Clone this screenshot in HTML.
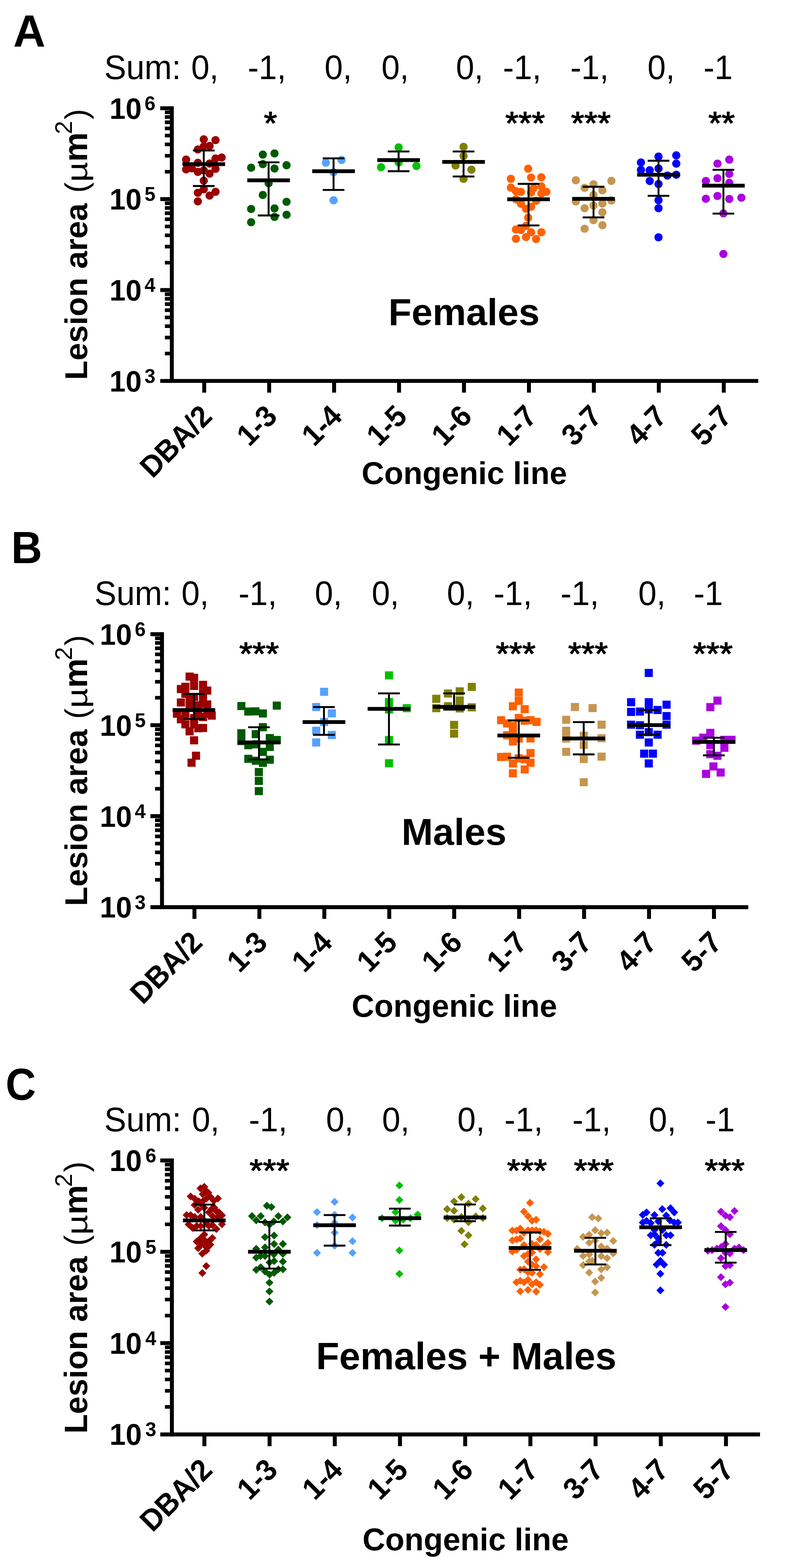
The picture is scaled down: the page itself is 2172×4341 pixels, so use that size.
<!DOCTYPE html>
<html lang="en">
<head>
<meta charset="utf-8">
<title>Lesion area by congenic line</title>
<style>
html,body{margin:0;padding:0;background:#fff}
body{width:2172px;height:4341px;overflow:hidden}
svg{display:block}
text{font-family:'Liberation Sans', sans-serif;fill:#000;white-space:pre;font-kerning:none}
.b{font-weight:700}
</style>
</head>
<body>
<svg width="2172" height="4341" viewBox="0 0 2172 4341">
<rect width="2172" height="4341" fill="#fff"/>
<g id="panel-A" aria-label="Panel A: Females">
<g fill="#9a0000">
<circle cx="563.79" cy="385.83" r="11.3"/><circle cx="596.32" cy="387.93" r="11.3"/><circle cx="579.85" cy="403.99" r="11.3"/><circle cx="563.79" cy="405.38" r="11.3"/><circle cx="547.45" cy="413.76" r="11.3"/><circle cx="514.91" cy="441.69" r="11.3"/><circle cx="596.32" cy="438.9" r="11.3"/><circle cx="613.36" cy="436.11" r="11.3"/><circle cx="547.45" cy="450.77" r="11.3"/><circle cx="579.85" cy="452.86" r="11.3"/><circle cx="514.91" cy="468.92" r="11.3"/><circle cx="530.97" cy="466.13" r="11.3"/><circle cx="547.45" cy="475.91" r="11.3"/><circle cx="596.32" cy="467.53" r="11.3"/><circle cx="579.85" cy="480.79" r="11.3"/><circle cx="563.79" cy="500.34" r="11.3"/><circle cx="563.79" cy="471.72" r="11.3"/><circle cx="563.79" cy="524.08" r="11.3"/><circle cx="547.45" cy="533.86" r="11.3"/><circle cx="596.32" cy="531.07" r="11.3"/><circle cx="579.85" cy="541.54" r="11.3"/><circle cx="547.45" cy="557.6" r="11.3"/>
</g>
<g fill="#005a00">
<circle cx="727.19" cy="428.06" r="11.3"/><circle cx="759.56" cy="424.74" r="11.3"/><circle cx="694.81" cy="464.37" r="11.3"/><circle cx="727.19" cy="454.39" r="11.3"/><circle cx="759.56" cy="466.49" r="11.3"/><circle cx="792.84" cy="457.41" r="11.3"/><circle cx="743.22" cy="507.34" r="11.3"/><circle cx="727.19" cy="539.71" r="11.3"/><circle cx="792.84" cy="558.77" r="11.3"/><circle cx="694.81" cy="578.44" r="11.3"/><circle cx="759.56" cy="576.93" r="11.3"/><circle cx="792.84" cy="594.48" r="11.3"/><circle cx="759.56" cy="600.53" r="11.3"/><circle cx="694.81" cy="615.36" r="11.3"/>
</g>
<g fill="#56a0ff">
<circle cx="901.71" cy="450.45" r="11.3"/><circle cx="944.98" cy="442.89" r="11.3"/><circle cx="922.89" cy="477.08" r="11.3"/><circle cx="922.89" cy="554.54" r="11.3"/>
</g>
<g fill="#00c000">
<circle cx="1102.92" cy="408.09" r="11.3"/><circle cx="1102.92" cy="449.85" r="11.3"/><circle cx="1054.21" cy="462.86" r="11.3"/><circle cx="1152.24" cy="459.53" r="11.3"/>
</g>
<g fill="#808000">
<circle cx="1282.59" cy="406.58" r="11.3"/><circle cx="1282.59" cy="431.69" r="11.3"/><circle cx="1260.5" cy="458.32" r="11.3"/><circle cx="1304.37" cy="469.82" r="11.3"/><circle cx="1282.59" cy="495.23" r="11.3"/>
</g>
<g fill="#ff6000">
<circle cx="1461.41" cy="467.01" r="11.3"/><circle cx="1469.37" cy="491.44" r="11.3"/><circle cx="1497.72" cy="490.75" r="11.3"/><circle cx="1413.51" cy="494.94" r="11.3"/><circle cx="1413.51" cy="519.37" r="11.3"/><circle cx="1427.48" cy="529.15" r="11.3"/><circle cx="1441.44" cy="531.24" r="11.3"/><circle cx="1497.72" cy="515.88" r="11.3"/><circle cx="1476.36" cy="520.77" r="11.3"/><circle cx="1469.37" cy="533.34" r="11.3"/><circle cx="1511.96" cy="531.24" r="11.3"/><circle cx="1497.72" cy="536.13" r="11.3"/><circle cx="1427.48" cy="551.49" r="11.3"/><circle cx="1441.44" cy="564.06" r="11.3"/><circle cx="1483.34" cy="555.68" r="11.3"/><circle cx="1455.41" cy="578.02" r="11.3"/><circle cx="1469.37" cy="572.44" r="11.3"/><circle cx="1461.41" cy="602.46" r="11.3"/><circle cx="1455.41" cy="625.5" r="11.3"/><circle cx="1427.48" cy="635.28" r="11.3"/><circle cx="1441.44" cy="636.68" r="11.3"/><circle cx="1469.37" cy="642.96" r="11.3"/><circle cx="1497.72" cy="642.96" r="11.3"/><circle cx="1427.48" cy="661.11" r="11.3"/><circle cx="1455.41" cy="656.23" r="11.3"/><circle cx="1483.34" cy="661.81" r="11.3"/>
</g>
<g fill="#c69650">
<circle cx="1593.29" cy="499.15" r="11.3"/><circle cx="1691.6" cy="500.82" r="11.3"/><circle cx="1642.16" cy="510.32" r="11.3"/><circle cx="1617.59" cy="520.09" r="11.3"/><circle cx="1666.74" cy="527.07" r="11.3"/><circle cx="1642.16" cy="539.64" r="11.3"/><circle cx="1593.29" cy="557.79" r="11.3"/><circle cx="1691.6" cy="555" r="11.3"/><circle cx="1666.74" cy="563.38" r="11.3"/><circle cx="1642.16" cy="568.97" r="11.3"/><circle cx="1617.59" cy="576.51" r="11.3"/><circle cx="1666.74" cy="587.68" r="11.3"/><circle cx="1642.16" cy="609.46" r="11.3"/><circle cx="1666.74" cy="623.43" r="11.3"/><circle cx="1617.59" cy="633.2" r="11.3"/>
</g>
<g fill="#0000ff">
<circle cx="1822.02" cy="433.51" r="11.3"/><circle cx="1871.18" cy="430.16" r="11.3"/><circle cx="1773.43" cy="449.71" r="11.3"/><circle cx="1871.18" cy="453.06" r="11.3"/><circle cx="1822.02" cy="466.47" r="11.3"/><circle cx="1773.43" cy="470.38" r="11.3"/><circle cx="1797.72" cy="471.22" r="11.3"/><circle cx="1846.6" cy="486.02" r="11.3"/><circle cx="1871.18" cy="483.78" r="11.3"/><circle cx="1797.72" cy="501.1" r="11.3"/><circle cx="1822.02" cy="509.48" r="11.3"/><circle cx="1822.02" cy="554.16" r="11.3"/><circle cx="1822.02" cy="576.51" r="11.3"/><circle cx="1822.02" cy="656.94" r="11.3"/>
</g>
<g fill="#aa00e0">
<circle cx="2017.83" cy="441.89" r="11.3"/><circle cx="1985.16" cy="453.06" r="11.3"/><circle cx="2017.83" cy="481.55" r="11.3"/><circle cx="1985.16" cy="493.56" r="11.3"/><circle cx="1953.04" cy="501.1" r="11.3"/><circle cx="2017.83" cy="506.13" r="11.3"/><circle cx="1985.16" cy="542.43" r="11.3"/><circle cx="1953.04" cy="550.25" r="11.3"/><circle cx="2017.83" cy="550.81" r="11.3"/><circle cx="2051.35" cy="547.18" r="11.3"/><circle cx="2001.63" cy="590.75" r="11.3"/><circle cx="2001.63" cy="703.02" r="11.3"/>
</g>
<g stroke="#000" fill="none">
<path stroke-width="5.3" d="M563.8 416.6V515M533.8 416.6h60M533.8 515h60"/>
<path stroke-width="10.5" d="M504.8 454.5h118"/>
<path stroke-width="5.3" d="M743.2 449.4V596.5M713.2 449.4h60M713.2 596.5h60"/>
<path stroke-width="10.5" d="M684.2 499.3h118"/>
<path stroke-width="5.3" d="M922.9 438.4V525.8M892.9 438.4h60M892.9 525.8h60"/>
<path stroke-width="10.5" d="M863.9 473.9h118"/>
<path stroke-width="5.3" d="M1102.9 419.4V474M1072.9 419.4h60M1072.9 474h60"/>
<path stroke-width="10.5" d="M1043.9 443.2h118"/>
<path stroke-width="5.3" d="M1282.6 419.3V488.6M1252.6 419.3h60M1252.6 488.6h60"/>
<path stroke-width="10.5" d="M1223.6 448.3h118"/>
<path stroke-width="5.3" d="M1462.4 509V624.1M1432.4 509h60M1432.4 624.1h60"/>
<path stroke-width="10.5" d="M1403.4 551.7h118"/>
<path stroke-width="5.3" d="M1642.2 517V601.9M1612.2 517h60M1612.2 601.9h60"/>
<path stroke-width="10.5" d="M1583.2 550.4h118"/>
<path stroke-width="5.3" d="M1822 445V542.1M1792 445h60M1792 542.1h60"/>
<path stroke-width="10.5" d="M1763 483.7h118"/>
<path stroke-width="5.3" d="M2001.6 470.1V591.3M1971.6 470.1h60M1971.6 591.3h60"/>
<path stroke-width="10.5" d="M1942.6 514.1h118"/>
</g>
<g stroke="#000" fill="none" stroke-width="10.9">
<path d="M475.4 294.15V1060.06"/>
<path d="M443.4 1054.61H2098"/>
<path d="M443.4 299.6H475.4M443.4 551.27H475.4M443.4 802.94H475.4"/>
<path d="M565 1054.61V1087.11M744.7 1054.61V1087.11M924.4 1054.61V1087.11M1104.1 1054.61V1087.11M1283.8 1054.61V1087.11M1463.5 1054.61V1087.11M1643.2 1054.61V1087.11M1822.9 1054.61V1087.11M2002.6 1054.61V1087.11"/>
</g>
<path stroke="#000" fill="none" stroke-width="10" d="M456.2 475.51H475.4M456.2 431.19H475.4M456.2 399.75H475.4M456.2 375.36H475.4M456.2 355.43H475.4M456.2 338.58H475.4M456.2 323.99H475.4M456.2 311.12H475.4M456.2 727.18H475.4M456.2 682.86H475.4M456.2 651.42H475.4M456.2 627.03H475.4M456.2 607.1H475.4M456.2 590.25H475.4M456.2 575.66H475.4M456.2 562.79H475.4M456.2 978.85H475.4M456.2 934.53H475.4M456.2 903.09H475.4M456.2 878.7H475.4M456.2 858.77H475.4M456.2 841.92H475.4M456.2 827.33H475.4M456.2 814.46H475.4"/>
<text class="b" transform="translate(303 328.6) scale(1 1.03)" font-size="80">10<tspan font-size="54" dx="8.02" dy="-23.19">6</tspan></text>
<text class="b" transform="translate(303 580.27) scale(1 1.03)" font-size="80">10<tspan font-size="54" dx="8.02" dy="-23.19">5</tspan></text>
<text class="b" transform="translate(303 831.94) scale(1 1.03)" font-size="80">10<tspan font-size="54" dx="8.02" dy="-23.19">4</tspan></text>
<text class="b" transform="translate(303 1083.61) scale(1 1.03)" font-size="80">10<tspan font-size="54" dx="8.02" dy="-23.19">3</tspan></text>
<text class="b" transform="translate(241.2 1052) rotate(-90)" font-size="88">Lesion area</text>
<text transform="translate(241.2 534) rotate(-90)" font-size="88">(</text>
<text transform="translate(241.2 504.1) rotate(-90) scale(1.1 0.92)" font-size="88">µ</text>
<text class="b" transform="translate(241.2 448.1) rotate(-90)" font-size="92">m</text>
<text transform="translate(198.7 371.6) rotate(-90)" font-size="66">2</text>
<text transform="translate(241.2 330.8) rotate(-90)" font-size="88">)</text>
<text class="b" text-anchor="end" transform="translate(591.5 1157.11) rotate(-45) scale(1 1.04)" font-size="80">DBA/2</text>
<text class="b" text-anchor="end" transform="translate(771.2 1157.11) rotate(-45) scale(1 1.04)" font-size="80">1-3</text>
<text class="b" text-anchor="end" transform="translate(950.9 1157.11) rotate(-45) scale(1 1.04)" font-size="80">1-4</text>
<text class="b" text-anchor="end" transform="translate(1130.6 1157.11) rotate(-45) scale(1 1.04)" font-size="80">1-5</text>
<text class="b" text-anchor="end" transform="translate(1310.3 1157.11) rotate(-45) scale(1 1.04)" font-size="80">1-6</text>
<text class="b" text-anchor="end" transform="translate(1490 1157.11) rotate(-45) scale(1 1.04)" font-size="80">1-7</text>
<text class="b" text-anchor="end" transform="translate(1669.7 1157.11) rotate(-45) scale(1 1.04)" font-size="80">3-7</text>
<text class="b" text-anchor="end" transform="translate(1849.4 1157.11) rotate(-45) scale(1 1.04)" font-size="80">4-7</text>
<text class="b" text-anchor="end" transform="translate(2029.1 1157.11) rotate(-45) scale(1 1.04)" font-size="80">5-7</text>
<text class="b" transform="translate(1000.5 1340)" font-size="86.7">Congenic line</text>
<text class="b" transform="translate(36.4 129)" font-size="123.6">A</text>
<text class="b" transform="translate(1074.8 899.5)" font-size="104.5">Females</text>
<text transform="translate(288.5 218.5) scale(1 1.03)" font-size="91">Sum:</text>
<text transform="translate(529 218.5) scale(1 1.03)" font-size="91">0,</text>
<text transform="translate(685.5 218.5) scale(1 1.03)" font-size="91">-1,</text>
<text transform="translate(898 218.5) scale(1 1.03)" font-size="91">0,</text>
<text transform="translate(1055.5 218.5) scale(1 1.03)" font-size="91">0,</text>
<text transform="translate(1261.5 218.5) scale(1 1.03)" font-size="91">0,</text>
<text transform="translate(1391.5 218.5) scale(1 1.03)" font-size="91">-1,</text>
<text transform="translate(1578 218.5) scale(1 1.03)" font-size="91">-1,</text>
<text transform="translate(1791.5 218.5) scale(1 1.03)" font-size="91">0,</text>
<text transform="translate(1946.5 218.5) scale(1 1.03)" font-size="91">-1</text>
<text stroke="#000" stroke-width="2.2" stroke-linejoin="round" transform="translate(730 371.4) scale(1 0.95)" font-size="94">*</text>
<text stroke="#000" stroke-width="2.2" stroke-linejoin="round" transform="translate(1398 371.4) scale(1 0.95)" font-size="94">***</text>
<text stroke="#000" stroke-width="2.2" stroke-linejoin="round" transform="translate(1580 371.4) scale(1 0.95)" font-size="94">***</text>
<text stroke="#000" stroke-width="2.2" stroke-linejoin="round" transform="translate(1960 371.4) scale(1 0.95)" font-size="94">**</text>
</g>
<g id="panel-B" aria-label="Panel B: Males">
<g fill="#9a0000">
<rect x="513.36" y="1861.93" width="22.4" height="22.4"/><rect x="525.77" y="1865.35" width="22.4" height="22.4"/><rect x="550.6" y="1884.74" width="22.4" height="22.4"/><rect x="501.72" y="1890.17" width="22.4" height="22.4"/><rect x="525.77" y="1887.85" width="22.4" height="22.4"/><rect x="489.31" y="1896.38" width="22.4" height="22.4"/><rect x="562.24" y="1900.72" width="22.4" height="22.4"/><rect x="501.72" y="1909.57" width="22.4" height="22.4"/><rect x="550.6" y="1907.24" width="22.4" height="22.4"/><rect x="489.31" y="1933.62" width="22.4" height="22.4"/><rect x="513.36" y="1924.31" width="22.4" height="22.4"/><rect x="550.6" y="1936.72" width="22.4" height="22.4"/><rect x="562.24" y="1939.05" width="22.4" height="22.4"/><rect x="525.77" y="1918.1" width="22.4" height="22.4"/><rect x="513.36" y="1942.93" width="22.4" height="22.4"/><rect x="537.41" y="1941.38" width="22.4" height="22.4"/><rect x="478.45" y="1964.65" width="22.4" height="22.4"/><rect x="501.72" y="1966.2" width="22.4" height="22.4"/><rect x="574.65" y="1970.08" width="22.4" height="22.4"/><rect x="550.6" y="1973.96" width="22.4" height="22.4"/><rect x="537.41" y="1970.86" width="22.4" height="22.4"/><rect x="489.31" y="1980.17" width="22.4" height="22.4"/><rect x="525.77" y="1977.06" width="22.4" height="22.4"/><rect x="550.6" y="1918.1" width="22.4" height="22.4"/><rect x="562.24" y="1964.65" width="22.4" height="22.4"/><rect x="501.72" y="1994.13" width="22.4" height="22.4"/><rect x="550.6" y="2004.22" width="22.4" height="22.4"/><rect x="525.77" y="1994.13" width="22.4" height="22.4"/><rect x="537.41" y="2004.99" width="22.4" height="22.4"/><rect x="513.36" y="2013.52" width="22.4" height="22.4"/><rect x="525.77" y="2038.35" width="22.4" height="22.4"/><rect x="531.2" y="2081.02" width="22.4" height="22.4"/><rect x="518.79" y="2100.41" width="22.4" height="22.4"/>
</g>
<g fill="#005a00">
<rect x="656.59" y="1943.42" width="22.4" height="22.4"/><rect x="754.65" y="1942.33" width="22.4" height="22.4"/><rect x="675.83" y="1958.62" width="22.4" height="22.4"/><rect x="695.69" y="1958.16" width="22.4" height="22.4"/><rect x="716.17" y="1964.05" width="22.4" height="22.4"/><rect x="716.17" y="2002.07" width="22.4" height="22.4"/><rect x="656.59" y="2018.82" width="22.4" height="22.4"/><rect x="696.46" y="2021.31" width="22.4" height="22.4"/><rect x="735.25" y="2032.17" width="22.4" height="22.4"/><rect x="754.65" y="2037.44" width="22.4" height="22.4"/><rect x="656.59" y="2040.39" width="22.4" height="22.4"/><rect x="675.83" y="2051.87" width="22.4" height="22.4"/><rect x="698.02" y="2049.39" width="22.4" height="22.4"/><rect x="735.25" y="2056.68" width="22.4" height="22.4"/><rect x="716.17" y="2070.34" width="22.4" height="22.4"/><rect x="675.83" y="2089.58" width="22.4" height="22.4"/><rect x="696.46" y="2094.85" width="22.4" height="22.4"/><rect x="735.25" y="2092.06" width="22.4" height="22.4"/><rect x="716.17" y="2100.59" width="22.4" height="22.4"/><rect x="705" y="2126.19" width="22.4" height="22.4"/><rect x="705" y="2150.71" width="22.4" height="22.4"/><rect x="705" y="2178.95" width="22.4" height="22.4"/>
</g>
<g fill="#56a0ff">
<rect x="885.5" y="1904" width="22.4" height="22.4"/><rect x="863.68" y="1946.16" width="22.4" height="22.4"/><rect x="907.02" y="1963.55" width="22.4" height="22.4"/><rect x="885.5" y="1987.73" width="22.4" height="22.4"/><rect x="863.68" y="2011.9" width="22.4" height="22.4"/><rect x="907.02" y="2023.69" width="22.4" height="22.4"/><rect x="863.68" y="2044.33" width="22.4" height="22.4"/>
</g>
<g fill="#00c000">
<rect x="1065.04" y="1858.6" width="22.4" height="22.4"/><rect x="1065.04" y="1932.3" width="22.4" height="22.4"/><rect x="1065.04" y="1952.94" width="22.4" height="22.4"/><rect x="1114.27" y="1949.4" width="22.4" height="22.4"/><rect x="1065.04" y="2037.55" width="22.4" height="22.4"/><rect x="1065.04" y="2101.82" width="22.4" height="22.4"/>
</g>
<g fill="#808000">
<rect x="1294.14" y="1890.44" width="22.4" height="22.4"/><rect x="1260.83" y="1902.82" width="22.4" height="22.4"/><rect x="1228.4" y="1908.72" width="22.4" height="22.4"/><rect x="1195.97" y="1923.46" width="22.4" height="22.4"/><rect x="1260.83" y="1927.88" width="22.4" height="22.4"/><rect x="1228.4" y="1944.09" width="22.4" height="22.4"/><rect x="1195.97" y="1949.4" width="22.4" height="22.4"/><rect x="1260.83" y="1949.99" width="22.4" height="22.4"/><rect x="1294.14" y="1947.04" width="22.4" height="22.4"/><rect x="1245.2" y="1995.69" width="22.4" height="22.4"/><rect x="1245.2" y="2019.86" width="22.4" height="22.4"/>
</g>
<g fill="#ff6000">
<rect x="1424.12" y="1906.17" width="22.4" height="22.4"/><rect x="1424.12" y="1929.07" width="22.4" height="22.4"/><rect x="1407.92" y="1944.15" width="22.4" height="22.4"/><rect x="1440.6" y="1952.11" width="22.4" height="22.4"/><rect x="1424.12" y="1976.55" width="22.4" height="22.4"/><rect x="1375.25" y="1982.7" width="22.4" height="22.4"/><rect x="1456.66" y="1982.42" width="22.4" height="22.4"/><rect x="1440.6" y="1984.23" width="22.4" height="22.4"/><rect x="1473.28" y="1987.44" width="22.4" height="22.4"/><rect x="1391.87" y="1991.63" width="22.4" height="22.4"/><rect x="1407.92" y="1998.89" width="22.4" height="22.4"/><rect x="1407.92" y="2009.37" width="22.4" height="22.4"/><rect x="1391.87" y="2024.31" width="22.4" height="22.4"/><rect x="1407.92" y="2041.49" width="22.4" height="22.4"/><rect x="1424.12" y="2033.53" width="22.4" height="22.4"/><rect x="1456.66" y="2033.11" width="22.4" height="22.4"/><rect x="1456.66" y="2073.61" width="22.4" height="22.4"/><rect x="1375.25" y="2084.36" width="22.4" height="22.4"/><rect x="1391.87" y="2083.8" width="22.4" height="22.4"/><rect x="1424.12" y="2088.27" width="22.4" height="22.4"/><rect x="1440.6" y="2091.06" width="22.4" height="22.4"/><rect x="1456.66" y="2100.42" width="22.4" height="22.4"/><rect x="1407.92" y="2102.23" width="22.4" height="22.4"/><rect x="1440.6" y="2118.99" width="22.4" height="22.4"/><rect x="1407.92" y="2129.74" width="22.4" height="22.4"/>
</g>
<g fill="#c69650">
<rect x="1579.55" y="1946.16" width="22.4" height="22.4"/><rect x="1628.49" y="1949.11" width="22.4" height="22.4"/><rect x="1555.38" y="1981.54" width="22.4" height="22.4"/><rect x="1653.26" y="1995.1" width="22.4" height="22.4"/><rect x="1555.38" y="2011.9" width="22.4" height="22.4"/><rect x="1555.38" y="2033.42" width="22.4" height="22.4"/><rect x="1604.02" y="2025.76" width="22.4" height="22.4"/><rect x="1653.26" y="2032.54" width="22.4" height="22.4"/><rect x="1604.02" y="2051.11" width="22.4" height="22.4"/><rect x="1555.38" y="2070.27" width="22.4" height="22.4"/><rect x="1653.26" y="2083.54" width="22.4" height="22.4"/><rect x="1604.02" y="2090.03" width="22.4" height="22.4"/><rect x="1604.02" y="2154.3" width="22.4" height="22.4"/>
</g>
<g fill="#0000ff">
<rect x="1783.86" y="1851.82" width="22.4" height="22.4"/><rect x="1734.92" y="1932.89" width="22.4" height="22.4"/><rect x="1783.86" y="1932.89" width="22.4" height="22.4"/><rect x="1833.09" y="1939.67" width="22.4" height="22.4"/><rect x="1783.86" y="1952.94" width="22.4" height="22.4"/><rect x="1808.33" y="1954.41" width="22.4" height="22.4"/><rect x="1734.92" y="1959.72" width="22.4" height="22.4"/><rect x="1759.39" y="1958.84" width="22.4" height="22.4"/><rect x="1833.09" y="1971.22" width="22.4" height="22.4"/><rect x="1734.92" y="1995.1" width="22.4" height="22.4"/><rect x="1759.39" y="1996.57" width="22.4" height="22.4"/><rect x="1833.09" y="1995.1" width="22.4" height="22.4"/><rect x="1783.86" y="2015.73" width="22.4" height="22.4"/><rect x="1759.39" y="2022.81" width="22.4" height="22.4"/><rect x="1808.33" y="2022.81" width="22.4" height="22.4"/><rect x="1783.86" y="2044.33" width="22.4" height="22.4"/><rect x="1771.18" y="2075.29" width="22.4" height="22.4"/><rect x="1795.36" y="2075.29" width="22.4" height="22.4"/><rect x="1783.86" y="2102.41" width="22.4" height="22.4"/>
</g>
<g fill="#aa00e0">
<rect x="1973.9" y="1928.47" width="22.4" height="22.4"/><rect x="1954.15" y="1946.45" width="22.4" height="22.4"/><rect x="1954.15" y="2017.8" width="22.4" height="22.4"/><rect x="1934.69" y="2031.06" width="22.4" height="22.4"/><rect x="1914.94" y="2039.32" width="22.4" height="22.4"/><rect x="1993.06" y="2036.96" width="22.4" height="22.4"/><rect x="2012.82" y="2036.96" width="22.4" height="22.4"/><rect x="1954.15" y="2051.7" width="22.4" height="22.4"/><rect x="1993.06" y="2059.07" width="22.4" height="22.4"/><rect x="1954.15" y="2076.76" width="22.4" height="22.4"/><rect x="1973.9" y="2081.18" width="22.4" height="22.4"/><rect x="1962.7" y="2110.66" width="22.4" height="22.4"/><rect x="1982.75" y="2127.47" width="22.4" height="22.4"/><rect x="1942.36" y="2131.3" width="22.4" height="22.4"/>
</g>
<g stroke="#000" fill="none">
<path stroke-width="5.3" d="M536.6 1921.4V1990.6M506.6 1921.4h60M506.6 1990.6h60"/>
<path stroke-width="10.5" d="M477.6 1965.8h118"/>
<path stroke-width="5.3" d="M716.6 2013.3V2102.3M686.6 2013.3h60M686.6 2102.3h60"/>
<path stroke-width="10.5" d="M657.6 2055.5h118"/>
<path stroke-width="5.3" d="M896.4 1957.5V2034.3M866.4 1957.5h60M866.4 2034.3h60"/>
<path stroke-width="10.5" d="M837.4 1999h118"/>
<path stroke-width="5.3" d="M1076.2 1919.6V2061.1M1046.2 1919.6h60M1046.2 2061.1h60"/>
<path stroke-width="10.5" d="M1017.2 1962.5h118"/>
<path stroke-width="5.3" d="M1256.4 1919.6V1964.7M1226.4 1919.6h60M1226.4 1964.7h60"/>
<path stroke-width="10.5" d="M1197.4 1957.1h118"/>
<path stroke-width="5.3" d="M1435.3 1994.5V2097.9M1405.3 1994.5h60M1405.3 2097.9h60"/>
<path stroke-width="10.5" d="M1376.3 2036.3h118"/>
<path stroke-width="5.3" d="M1615.1 1999.1V2088.5M1585.1 1999.1h60M1585.1 2088.5h60"/>
<path stroke-width="10.5" d="M1556.1 2044.6h118"/>
<path stroke-width="5.3" d="M1795.2 1965.9V2034M1765.2 1965.9h60M1765.2 2034h60"/>
<path stroke-width="10.5" d="M1736.2 2007.6h118"/>
<path stroke-width="5.3" d="M1975.2 2042.3V2091.2M1945.2 2042.3h60M1945.2 2091.2h60"/>
<path stroke-width="10.5" d="M1916.2 2054h118"/>
</g>
<g stroke="#000" fill="none" stroke-width="10.9">
<path d="M448.2 1750.25V2516.94"/>
<path d="M416.2 2511.49H2070.4"/>
<path d="M416.2 1755.7H448.2M416.2 2007.63H448.2M416.2 2259.56H448.2"/>
<path d="M538 2511.49V2543.99M717.68 2511.49V2543.99M897.36 2511.49V2543.99M1077.04 2511.49V2543.99M1256.72 2511.49V2543.99M1436.4 2511.49V2543.99M1616.08 2511.49V2543.99M1795.76 2511.49V2543.99M1975.44 2511.49V2543.99"/>
</g>
<path stroke="#000" fill="none" stroke-width="10" d="M429 1931.79H448.2M429 1887.43H448.2M429 1855.95H448.2M429 1831.54H448.2M429 1811.59H448.2M429 1794.72H448.2M429 1780.11H448.2M429 1767.23H448.2M429 2183.72H448.2M429 2139.36H448.2M429 2107.88H448.2M429 2083.47H448.2M429 2063.52H448.2M429 2046.65H448.2M429 2032.04H448.2M429 2019.16H448.2M429 2435.65H448.2M429 2391.29H448.2M429 2359.81H448.2M429 2335.4H448.2M429 2315.45H448.2M429 2298.58H448.2M429 2283.97H448.2M429 2271.09H448.2"/>
<text class="b" transform="translate(276 1784.7) scale(1 1.03)" font-size="80">10<tspan font-size="54" dx="8.02" dy="-23.19">6</tspan></text>
<text class="b" transform="translate(276 2036.63) scale(1 1.03)" font-size="80">10<tspan font-size="54" dx="8.02" dy="-23.19">5</tspan></text>
<text class="b" transform="translate(276 2288.56) scale(1 1.03)" font-size="80">10<tspan font-size="54" dx="8.02" dy="-23.19">4</tspan></text>
<text class="b" transform="translate(276 2540.49) scale(1 1.03)" font-size="80">10<tspan font-size="54" dx="8.02" dy="-23.19">3</tspan></text>
<text class="b" transform="translate(241.2 2508.5) rotate(-90)" font-size="88">Lesion area</text>
<text transform="translate(241.2 1990.5) rotate(-90)" font-size="88">(</text>
<text transform="translate(241.2 1960.6) rotate(-90) scale(1.1 0.92)" font-size="88">µ</text>
<text class="b" transform="translate(241.2 1904.6) rotate(-90)" font-size="92">m</text>
<text transform="translate(198.7 1828.1) rotate(-90)" font-size="66">2</text>
<text transform="translate(241.2 1787.3) rotate(-90)" font-size="88">)</text>
<text class="b" text-anchor="end" transform="translate(564.5 2613.99) rotate(-45) scale(1 1.04)" font-size="80">DBA/2</text>
<text class="b" text-anchor="end" transform="translate(744.18 2613.99) rotate(-45) scale(1 1.04)" font-size="80">1-3</text>
<text class="b" text-anchor="end" transform="translate(923.86 2613.99) rotate(-45) scale(1 1.04)" font-size="80">1-4</text>
<text class="b" text-anchor="end" transform="translate(1103.54 2613.99) rotate(-45) scale(1 1.04)" font-size="80">1-5</text>
<text class="b" text-anchor="end" transform="translate(1283.22 2613.99) rotate(-45) scale(1 1.04)" font-size="80">1-6</text>
<text class="b" text-anchor="end" transform="translate(1462.9 2613.99) rotate(-45) scale(1 1.04)" font-size="80">1-7</text>
<text class="b" text-anchor="end" transform="translate(1642.58 2613.99) rotate(-45) scale(1 1.04)" font-size="80">3-7</text>
<text class="b" text-anchor="end" transform="translate(1822.26 2613.99) rotate(-45) scale(1 1.04)" font-size="80">4-7</text>
<text class="b" text-anchor="end" transform="translate(2001.94 2613.99) rotate(-45) scale(1 1.04)" font-size="80">5-7</text>
<text class="b" transform="translate(973 2815.3)" font-size="86.7">Congenic line</text>
<text class="b" transform="translate(31 1559.3) scale(0.96 1.01)" font-size="123.6">B</text>
<text class="b" transform="translate(1111 2338.5)" font-size="104.5">Males</text>
<text transform="translate(261.5 1674.6) scale(1 1.03)" font-size="91">Sum:</text>
<text transform="translate(502 1674.6) scale(1 1.03)" font-size="91">0,</text>
<text transform="translate(660 1674.6) scale(1 1.03)" font-size="91">-1,</text>
<text transform="translate(871 1674.6) scale(1 1.03)" font-size="91">0,</text>
<text transform="translate(1028.5 1674.6) scale(1 1.03)" font-size="91">0,</text>
<text transform="translate(1236.5 1674.6) scale(1 1.03)" font-size="91">0,</text>
<text transform="translate(1366 1674.6) scale(1 1.03)" font-size="91">-1,</text>
<text transform="translate(1551 1674.6) scale(1 1.03)" font-size="91">-1,</text>
<text transform="translate(1766 1674.6) scale(1 1.03)" font-size="91">0,</text>
<text transform="translate(1919.5 1674.6) scale(1 1.03)" font-size="91">-1</text>
<text stroke="#000" stroke-width="2.2" stroke-linejoin="round" transform="translate(662 1840.4) scale(1 0.95)" font-size="94">***</text>
<text stroke="#000" stroke-width="2.2" stroke-linejoin="round" transform="translate(1372 1840.4) scale(1 0.95)" font-size="94">***</text>
<text stroke="#000" stroke-width="2.2" stroke-linejoin="round" transform="translate(1572 1840.4) scale(1 0.95)" font-size="94">***</text>
<text stroke="#000" stroke-width="2.2" stroke-linejoin="round" transform="translate(1917.5 1840.4) scale(1 0.95)" font-size="94">***</text>
</g>
<g id="panel-C" aria-label="Panel C: Females + Males">
<g fill="#9a0000">
<path d="M565.18 3274.83l11 11l-11 11l-11 -11z"/><path d="M554.71 3279.02l11 11l-11 11l-11 -11z"/><path d="M570.77 3286.01l11 11l-11 11l-11 -11z"/><path d="M560.99 3295.08l11 11l-11 11l-11 -11z"/><path d="M576.36 3290.89l11 11l-11 11l-11 -11z"/><path d="M527.48 3301.37l11 11l-11 11l-11 -11z"/><path d="M538.65 3307.65l11 11l-11 11l-11 -11z"/><path d="M602.89 3306.95l11 11l-11 11l-11 -11z"/><path d="M581.94 3302.07l11 11l-11 11l-11 -11z"/><path d="M570.77 3307.65l11 11l-11 11l-11 -11z"/><path d="M591.72 3313.24l11 11l-11 11l-11 -11z"/><path d="M549.82 3314.63l11 11l-11 11l-11 -11z"/><path d="M560.99 3314.63l11 11l-11 11l-11 -11z"/><path d="M538.65 3325.11l11 11l-11 11l-11 -11z"/><path d="M548.43 3338.37l11 11l-11 11l-11 -11z"/><path d="M516.31 3353.04l11 11l-11 11l-11 -11z"/><path d="M527.48 3353.04l11 11l-11 11l-11 -11z"/><path d="M586.13 3335.58l11 11l-11 11l-11 -11z"/><path d="M597.3 3341.17l11 11l-11 11l-11 -11z"/><path d="M614.06 3353.73l11 11l-11 11l-11 -11z"/><path d="M602.89 3357.92l11 11l-11 11l-11 -11z"/><path d="M538.65 3357.92l11 11l-11 11l-11 -11z"/><path d="M577.75 3345.36l11 11l-11 11l-11 -11z"/><path d="M565.18 3332.79l11 11l-11 11l-11 -11z"/><path d="M555.41 3357.92l11 11l-11 11l-11 -11z"/><path d="M588.92 3356.53l11 11l-11 11l-11 -11z"/><path d="M521.89 3378.87l11 11l-11 11l-11 -11z"/><path d="M533.07 3388.65l11 11l-11 11l-11 -11z"/><path d="M544.24 3383.06l11 11l-11 11l-11 -11z"/><path d="M614.06 3378.17l11 11l-11 11l-11 -11z"/><path d="M598.7 3391.44l11 11l-11 11l-11 -11z"/><path d="M577.75 3383.06l11 11l-11 11l-11 -11z"/><path d="M555.41 3383.06l11 11l-11 11l-11 -11z"/><path d="M587.53 3380.27l11 11l-11 11l-11 -11z"/><path d="M565.18 3406.8l11 11l-11 11l-11 -11z"/><path d="M544.24 3426.35l11 11l-11 11l-11 -11z"/><path d="M555.41 3416.57l11 11l-11 11l-11 -11z"/><path d="M587.53 3416.57l11 11l-11 11l-11 -11z"/><path d="M576.36 3426.35l11 11l-11 11l-11 -11z"/><path d="M565.18 3436.12l11 11l-11 11l-11 -11z"/><path d="M581.94 3434.73l11 11l-11 11l-11 -11z"/><path d="M548.43 3444.5l11 11l-11 11l-11 -11z"/><path d="M570.77 3451.49l11 11l-11 11l-11 -11z"/><path d="M559.6 3459.86l11 11l-11 11l-11 -11z"/><path d="M570.77 3494.08l11 11l-11 11l-11 -11z"/><path d="M559.88 3513.21l11 11l-11 11l-11 -11z"/><path d="M593.11 3332.79l11 11l-11 11l-11 -11z"/><path d="M566.58 3423.56l11 11l-11 11l-11 -11z"/><path d="M558.2 3433.33l11 11l-11 11l-11 -11z"/><path d="M574.96 3441.71l11 11l-11 11l-11 -11z"/><path d="M605.68 3345.36l11 11l-11 11l-11 -11z"/><path d="M558.2 3324.41l11 11l-11 11l-11 -11z"/><path d="M569.37 3371.89l11 11l-11 11l-11 -11z"/>
</g>
<g fill="#005a00">
<path d="M738.44 3326.91l11 11l-11 11l-11 -11z"/><path d="M750.97 3330.59l11 11l-11 11l-11 -11z"/><path d="M697.17 3355.65l11 11l-11 11l-11 -11z"/><path d="M721.49 3355.65l11 11l-11 11l-11 -11z"/><path d="M770.14 3355.65l11 11l-11 11l-11 -11z"/><path d="M795.19 3359.34l11 11l-11 11l-11 -11z"/><path d="M708.96 3367.44l11 11l-11 11l-11 -11z"/><path d="M733.28 3373.34l11 11l-11 11l-11 -11z"/><path d="M757.61 3370.39l11 11l-11 11l-11 -11z"/><path d="M782.67 3370.39l11 11l-11 11l-11 -11z"/><path d="M745.81 3379.24l11 11l-11 11l-11 -11z"/><path d="M733.28 3413.88l11 11l-11 11l-11 -11z"/><path d="M758.34 3409.45l11 11l-11 11l-11 -11z"/><path d="M758.34 3433.04l11 11l-11 11l-11 -11z"/><path d="M782.67 3433.04l11 11l-11 11l-11 -11z"/><path d="M708.96 3446.31l11 11l-11 11l-11 -11z"/><path d="M733.28 3442.62l11 11l-11 11l-11 -11z"/><path d="M770.14 3448.52l11 11l-11 11l-11 -11z"/><path d="M708.96 3470.63l11 11l-11 11l-11 -11z"/><path d="M720.75 3466.21l11 11l-11 11l-11 -11z"/><path d="M733.28 3466.21l11 11l-11 11l-11 -11z"/><path d="M757.61 3461.78l11 11l-11 11l-11 -11z"/><path d="M782.67 3460.31l11 11l-11 11l-11 -11z"/><path d="M745.81 3483.89l11 11l-11 11l-11 -11z"/><path d="M758.34 3480.21l11 11l-11 11l-11 -11z"/><path d="M782.67 3481.68l11 11l-11 11l-11 -11z"/><path d="M721.49 3497.16l11 11l-11 11l-11 -11z"/><path d="M708.96 3504.53l11 11l-11 11l-11 -11z"/><path d="M770.14 3503.06l11 11l-11 11l-11 -11z"/><path d="M782.67 3503.06l11 11l-11 11l-11 -11z"/><path d="M733.28 3508.95l11 11l-11 11l-11 -11z"/><path d="M758.34 3512.64l11 11l-11 11l-11 -11z"/><path d="M745.81 3517.8l11 11l-11 11l-11 -11z"/><path d="M745.52 3539.91l11 11l-11 11l-11 -11z"/><path d="M745.52 3564.23l11 11l-11 11l-11 -11z"/><path d="M745.52 3592.24l11 11l-11 11l-11 -11z"/>
</g>
<g fill="#56a0ff">
<path d="M925.81 3316.22l11 11l-11 11l-11 -11z"/><path d="M877.17 3344.81l11 11l-11 11l-11 -11z"/><path d="M925.81 3352.18l11 11l-11 11l-11 -11z"/><path d="M975.34 3359.55l11 11l-11 11l-11 -11z"/><path d="M925.81 3374.29l11 11l-11 11l-11 -11z"/><path d="M877.17 3380.78l11 11l-11 11l-11 -11z"/><path d="M925.81 3401.42l11 11l-11 11l-11 -11z"/><path d="M975.34 3425.3l11 11l-11 11l-11 -11z"/><path d="M925.81 3437.68l11 11l-11 11l-11 -11z"/><path d="M877.17 3457.43l11 11l-11 11l-11 -11z"/><path d="M975.34 3457.43l11 11l-11 11l-11 -11z"/>
</g>
<g fill="#00c000">
<path d="M1105.06 3271.11l11 11l-11 11l-11 -11z"/><path d="M1105.06 3310.91l11 11l-11 11l-11 -11z"/><path d="M1094.45 3344.81l11 11l-11 11l-11 -11z"/><path d="M1155.77 3351.59l11 11l-11 11l-11 -11z"/><path d="M1057 3361.62l11 11l-11 11l-11 -11z"/><path d="M1135.72 3361.62l11 11l-11 11l-11 -11z"/><path d="M1094.45 3368.4l11 11l-11 11l-11 -11z"/><path d="M1115.38 3365.45l11 11l-11 11l-11 -11z"/><path d="M1105.06 3450.95l11 11l-11 11l-11 -11z"/><path d="M1105.06 3515.8l11 11l-11 11l-11 -11z"/>
</g>
<g fill="#808000">
<path d="M1276.38 3303.54l11 11l-11 11l-11 -11z"/><path d="M1256.33 3315.33l11 11l-11 11l-11 -11z"/><path d="M1316.18 3308.85l11 11l-11 11l-11 -11z"/><path d="M1296.13 3321.23l11 11l-11 11l-11 -11z"/><path d="M1237.17 3336.56l11 11l-11 11l-11 -11z"/><path d="M1256.33 3340.98l11 11l-11 11l-11 -11z"/><path d="M1335.93 3334.5l11 11l-11 11l-11 -11z"/><path d="M1276.38 3358.08l11 11l-11 11l-11 -11z"/><path d="M1316.18 3356.61l11 11l-11 11l-11 -11z"/><path d="M1237.17 3361.03l11 11l-11 11l-11 -11z"/><path d="M1335.93 3361.03l11 11l-11 11l-11 -11z"/><path d="M1256.33 3365.45l11 11l-11 11l-11 -11z"/><path d="M1296.13 3372.82l11 11l-11 11l-11 -11z"/><path d="M1276.38 3396.41l11 11l-11 11l-11 -11z"/><path d="M1296.13 3409.08l11 11l-11 11l-11 -11z"/><path d="M1285.22 3433.85l11 11l-11 11l-11 -11z"/>
</g>
<g fill="#ff6000">
<path d="M1466.58 3319.02l11 11l-11 11l-11 -11z"/><path d="M1449.82 3343.46l11 11l-11 11l-11 -11z"/><path d="M1460.99 3356.03l11 11l-11 11l-11 -11z"/><path d="M1472.17 3368.6l11 11l-11 11l-11 -11z"/><path d="M1483.34 3365.8l11 11l-11 11l-11 -11z"/><path d="M1417.7 3395.83l11 11l-11 11l-11 -11z"/><path d="M1428.88 3395.83l11 11l-11 11l-11 -11z"/><path d="M1439.35 3390.24l11 11l-11 11l-11 -11z"/><path d="M1460.99 3395.13l11 11l-11 11l-11 -11z"/><path d="M1472.17 3395.13l11 11l-11 11l-11 -11z"/><path d="M1483.34 3395.13l11 11l-11 11l-11 -11z"/><path d="M1493.81 3397.92l11 11l-11 11l-11 -11z"/><path d="M1504.98 3399.32l11 11l-11 11l-11 -11z"/><path d="M1516.15 3404.91l11 11l-11 11l-11 -11z"/><path d="M1449.82 3402.11l11 11l-11 11l-11 -11z"/><path d="M1417.7 3423.06l11 11l-11 11l-11 -11z"/><path d="M1428.88 3420.27l11 11l-11 11l-11 -11z"/><path d="M1439.35 3417.47l11 11l-11 11l-11 -11z"/><path d="M1493.81 3420.27l11 11l-11 11l-11 -11z"/><path d="M1516.15 3430.04l11 11l-11 11l-11 -11z"/><path d="M1449.82 3435.63l11 11l-11 11l-11 -11z"/><path d="M1472.17 3432.83l11 11l-11 11l-11 -11z"/><path d="M1483.34 3435.63l11 11l-11 11l-11 -11z"/><path d="M1504.98 3439.82l11 11l-11 11l-11 -11z"/><path d="M1417.7 3453.78l11 11l-11 11l-11 -11z"/><path d="M1428.88 3449.59l11 11l-11 11l-11 -11z"/><path d="M1516.15 3455.18l11 11l-11 11l-11 -11z"/><path d="M1493.81 3446.8l11 11l-11 11l-11 -11z"/><path d="M1449.82 3466.35l11 11l-11 11l-11 -11z"/><path d="M1460.99 3460.76l11 11l-11 11l-11 -11z"/><path d="M1472.17 3456.57l11 11l-11 11l-11 -11z"/><path d="M1483.34 3475.43l11 11l-11 11l-11 -11z"/><path d="M1460.99 3481.71l11 11l-11 11l-11 -11z"/><path d="M1472.17 3490.09l11 11l-11 11l-11 -11z"/><path d="M1483.34 3494.28l11 11l-11 11l-11 -11z"/><path d="M1504.98 3497.07l11 11l-11 11l-11 -11z"/><path d="M1439.35 3504.05l11 11l-11 11l-11 -11z"/><path d="M1449.82 3502.66l11 11l-11 11l-11 -11z"/><path d="M1460.99 3511.04l11 11l-11 11l-11 -11z"/><path d="M1472.17 3512.43l11 11l-11 11l-11 -11z"/><path d="M1493.81 3516.62l11 11l-11 11l-11 -11z"/><path d="M1428.88 3538.97l11 11l-11 11l-11 -11z"/><path d="M1439.35 3534.78l11 11l-11 11l-11 -11z"/><path d="M1449.82 3538.97l11 11l-11 11l-11 -11z"/><path d="M1460.99 3531.98l11 11l-11 11l-11 -11z"/><path d="M1483.34 3538.97l11 11l-11 11l-11 -11z"/><path d="M1472.17 3544.55l11 11l-11 11l-11 -11z"/><path d="M1493.81 3545.95l11 11l-11 11l-11 -11z"/><path d="M1439.35 3564.1l11 11l-11 11l-11 -11z"/><path d="M1460.99 3559.91l11 11l-11 11l-11 -11z"/><path d="M1483.34 3564.8l11 11l-11 11l-11 -11z"/>
</g>
<g fill="#c69650">
<path d="M1638.44 3358.72l11 11l-11 11l-11 -11z"/><path d="M1655.54 3362.25l11 11l-11 11l-11 -11z"/><path d="M1646.7 3394.68l11 11l-11 11l-11 -11z"/><path d="M1663.5 3402.94l11 11l-11 11l-11 -11z"/><path d="M1679.72 3401.46l11 11l-11 11l-11 -11z"/><path d="M1630.19 3407.36l11 11l-11 11l-11 -11z"/><path d="M1613.38 3413.26l11 11l-11 11l-11 -11z"/><path d="M1696.82 3424.46l11 11l-11 11l-11 -11z"/><path d="M1630.19 3429.47l11 11l-11 11l-11 -11z"/><path d="M1646.7 3423.58l11 11l-11 11l-11 -11z"/><path d="M1663.5 3439.79l11 11l-11 11l-11 -11z"/><path d="M1679.72 3445.69l11 11l-11 11l-11 -11z"/><path d="M1597.17 3446.57l11 11l-11 11l-11 -11z"/><path d="M1613.38 3466.32l11 11l-11 11l-11 -11z"/><path d="M1630.19 3461.9l11 11l-11 11l-11 -11z"/><path d="M1663.5 3466.32l11 11l-11 11l-11 -11z"/><path d="M1679.72 3472.22l11 11l-11 11l-11 -11z"/><path d="M1696.82 3458.95l11 11l-11 11l-11 -11z"/><path d="M1630.19 3481.06l11 11l-11 11l-11 -11z"/><path d="M1638.44 3479.59l11 11l-11 11l-11 -11z"/><path d="M1613.38 3491.38l11 11l-11 11l-11 -11z"/><path d="M1679.72 3497.28l11 11l-11 11l-11 -11z"/><path d="M1663.5 3503.17l11 11l-11 11l-11 -11z"/><path d="M1630.19 3512.02l11 11l-11 11l-11 -11z"/><path d="M1663.5 3526.76l11 11l-11 11l-11 -11z"/><path d="M1646.7 3537.08l11 11l-11 11l-11 -11z"/><path d="M1646.7 3567.15l11 11l-11 11l-11 -11z"/>
</g>
<g fill="#0000ff">
<path d="M1827.12 3264.97l11 11l-11 11l-11 -11z"/><path d="M1832.43 3336.61l11 11l-11 11l-11 -11z"/><path d="M1855.13 3333.66l11 11l-11 11l-11 -11z"/><path d="M1865.45 3345.45l11 11l-11 11l-11 -11z"/><path d="M1788.8 3345.45l11 11l-11 11l-11 -11z"/><path d="M1778.48 3352.23l11 11l-11 11l-11 -11z"/><path d="M1810.91 3352.82l11 11l-11 11l-11 -11z"/><path d="M1843.34 3354.29l11 11l-11 11l-11 -11z"/><path d="M1788.8 3369.04l11 11l-11 11l-11 -11z"/><path d="M1778.48 3373.46l11 11l-11 11l-11 -11z"/><path d="M1800.59 3374.93l11 11l-11 11l-11 -11z"/><path d="M1821.23 3370.51l11 11l-11 11l-11 -11z"/><path d="M1853.66 3367.56l11 11l-11 11l-11 -11z"/><path d="M1865.45 3373.46l11 11l-11 11l-11 -11z"/><path d="M1875.77 3373.46l11 11l-11 11l-11 -11z"/><path d="M1810.91 3394.09l11 11l-11 11l-11 -11z"/><path d="M1833.02 3394.09l11 11l-11 11l-11 -11z"/><path d="M1800.59 3408.83l11 11l-11 11l-11 -11z"/><path d="M1810.91 3405.89l11 11l-11 11l-11 -11z"/><path d="M1843.34 3408.83l11 11l-11 11l-11 -11z"/><path d="M1855.13 3408.83l11 11l-11 11l-11 -11z"/><path d="M1821.23 3417.68l11 11l-11 11l-11 -11z"/><path d="M1810.91 3435.37l11 11l-11 11l-11 -11z"/><path d="M1843.34 3435.37l11 11l-11 11l-11 -11z"/><path d="M1821.23 3426.52l11 11l-11 11l-11 -11z"/><path d="M1821.23 3457.48l11 11l-11 11l-11 -11z"/><path d="M1833.02 3457.48l11 11l-11 11l-11 -11z"/><path d="M1827.12 3479.59l11 11l-11 11l-11 -11z"/><path d="M1816.8 3489.91l11 11l-11 11l-11 -11z"/><path d="M1837.44 3489.91l11 11l-11 11l-11 -11z"/><path d="M1827.12 3515.56l11 11l-11 11l-11 -11z"/><path d="M1827.12 3561.25l11 11l-11 11l-11 -11z"/>
</g>
<g fill="#aa00e0">
<path d="M1994.83 3343.39l11 11l-11 11l-11 -11z"/><path d="M2032.27 3341.62l11 11l-11 11l-11 -11z"/><path d="M2007.21 3354.29l11 11l-11 11l-11 -11z"/><path d="M2019.59 3358.72l11 11l-11 11l-11 -11z"/><path d="M1994.83 3383.78l11 11l-11 11l-11 -11z"/><path d="M2007.21 3394.09l11 11l-11 11l-11 -11z"/><path d="M2019.59 3405.89l11 11l-11 11l-11 -11z"/><path d="M2007.21 3432.42l11 11l-11 11l-11 -11z"/><path d="M1958.57 3451.58l11 11l-11 11l-11 -11z"/><path d="M1970.36 3450.11l11 11l-11 11l-11 -11z"/><path d="M1983.63 3445.69l11 11l-11 11l-11 -11z"/><path d="M1995.42 3441.26l11 11l-11 11l-11 -11z"/><path d="M2032.27 3445.69l11 11l-11 11l-11 -11z"/><path d="M2044.95 3442.74l11 11l-11 11l-11 -11z"/><path d="M2057.33 3450.11l11 11l-11 11l-11 -11z"/><path d="M2007.21 3457.48l11 11l-11 11l-11 -11z"/><path d="M2019.59 3458.95l11 11l-11 11l-11 -11z"/><path d="M1994.83 3472.22l11 11l-11 11l-11 -11z"/><path d="M2007.21 3494.33l11 11l-11 11l-11 -11z"/><path d="M2019.59 3491.38l11 11l-11 11l-11 -11z"/><path d="M1994.83 3524.7l11 11l-11 11l-11 -11z"/><path d="M2007.21 3544.45l11 11l-11 11l-11 -11z"/><path d="M2019.59 3540.03l11 11l-11 11l-11 -11z"/><path d="M2007.21 3607.24l11 11l-11 11l-11 -11z"/>
</g>
<g stroke="#000" fill="none">
<path stroke-width="5.3" d="M565.3 3334.9V3406.3M535.3 3334.9h60M535.3 3406.3h60"/>
<path stroke-width="10.5" d="M506.3 3378.8h118"/>
<path stroke-width="5.3" d="M745.3 3383V3512.2M715.3 3383h60M715.3 3512.2h60"/>
<path stroke-width="10.5" d="M686.3 3465.6h118"/>
<path stroke-width="5.3" d="M925.7 3363.8V3448.5M895.7 3363.8h60M895.7 3448.5h60"/>
<path stroke-width="10.5" d="M866.7 3391.9h118"/>
<path stroke-width="5.3" d="M1106.3 3346.1V3393M1076.3 3346.1h60M1076.3 3393h60"/>
<path stroke-width="10.5" d="M1047.3 3372.6h118"/>
<path stroke-width="5.3" d="M1286.6 3334.7V3380.9M1256.6 3334.7h60M1256.6 3380.9h60"/>
<path stroke-width="10.5" d="M1227.6 3370.5h118"/>
<path stroke-width="5.3" d="M1466.6 3412V3515.4M1436.6 3412h60M1436.6 3515.4h60"/>
<path stroke-width="10.5" d="M1407.6 3455h118"/>
<path stroke-width="5.3" d="M1647.4 3426.8V3500.6M1617.4 3426.8h60M1617.4 3500.6h60"/>
<path stroke-width="10.5" d="M1588.4 3462.7h118"/>
<path stroke-width="5.3" d="M1827.9 3373V3447.1M1797.9 3373h60M1797.9 3447.1h60"/>
<path stroke-width="10.5" d="M1768.9 3397.7h118"/>
<path stroke-width="5.3" d="M2008 3410.7V3495.6M1978 3410.7h60M1978 3495.6h60"/>
<path stroke-width="10.5" d="M1949 3460.8h118"/>
</g>
<g stroke="#000" fill="none" stroke-width="10.94">
<path d="M475.6 3207.33V3976.67"/>
<path d="M443.47 3971.2H2102.9"/>
<path d="M443.47 3212.8H475.6M443.47 3465.6H475.6M443.47 3718.4H475.6"/>
<path d="M565.5 3971.2V4003.83M745.9 3971.2V4003.83M926.3 3971.2V4003.83M1106.7 3971.2V4003.83M1287.1 3971.2V4003.83M1467.5 3971.2V4003.83M1647.9 3971.2V4003.83M1828.3 3971.2V4003.83M2008.7 3971.2V4003.83"/>
</g>
<path stroke="#000" fill="none" stroke-width="10" d="M456.32 3389.5H475.6M456.32 3344.98H475.6M456.32 3313.4H475.6M456.32 3288.9H475.6M456.32 3268.88H475.6M456.32 3251.96H475.6M456.32 3237.3H475.6M456.32 3224.37H475.6M456.32 3642.3H475.6M456.32 3597.78H475.6M456.32 3566.2H475.6M456.32 3541.7H475.6M456.32 3521.68H475.6M456.32 3504.76H475.6M456.32 3490.1H475.6M456.32 3477.17H475.6M456.32 3895.1H475.6M456.32 3850.58H475.6M456.32 3819H475.6M456.32 3794.5H475.6M456.32 3774.48H475.6M456.32 3757.56H475.6M456.32 3742.9H475.6M456.32 3729.97H475.6"/>
<text class="b" transform="translate(303 3241.92) scale(1 1.03)" font-size="80.32">10<tspan font-size="54.22" dx="10.05" dy="-23.28">6</tspan></text>
<text class="b" transform="translate(303 3494.72) scale(1 1.03)" font-size="80.32">10<tspan font-size="54.22" dx="10.05" dy="-23.28">5</tspan></text>
<text class="b" transform="translate(303 3747.52) scale(1 1.03)" font-size="80.32">10<tspan font-size="54.22" dx="10.05" dy="-23.28">4</tspan></text>
<text class="b" transform="translate(303 4000.32) scale(1 1.03)" font-size="80.32">10<tspan font-size="54.22" dx="10.05" dy="-23.28">3</tspan></text>
<text class="b" transform="translate(241.2 3969) rotate(-90)" font-size="88.35">Lesion area</text>
<text transform="translate(241.2 3448.93) rotate(-90)" font-size="88.35">(</text>
<text transform="translate(241.2 3418.91) rotate(-90) scale(1.1 0.92)" font-size="88.35">µ</text>
<text class="b" transform="translate(241.2 3362.68) rotate(-90)" font-size="92.37">m</text>
<text transform="translate(198.53 3285.88) rotate(-90)" font-size="66.26">2</text>
<text transform="translate(241.2 3244.92) rotate(-90)" font-size="88.35">)</text>
<text class="b" text-anchor="end" transform="translate(592.11 4074.11) rotate(-45) scale(1 1.04)" font-size="80.32">DBA/2</text>
<text class="b" text-anchor="end" transform="translate(772.51 4074.11) rotate(-45) scale(1 1.04)" font-size="80.32">1-3</text>
<text class="b" text-anchor="end" transform="translate(952.91 4074.11) rotate(-45) scale(1 1.04)" font-size="80.32">1-4</text>
<text class="b" text-anchor="end" transform="translate(1133.31 4074.11) rotate(-45) scale(1 1.04)" font-size="80.32">1-5</text>
<text class="b" text-anchor="end" transform="translate(1313.71 4074.11) rotate(-45) scale(1 1.04)" font-size="80.32">1-6</text>
<text class="b" text-anchor="end" transform="translate(1494.11 4074.11) rotate(-45) scale(1 1.04)" font-size="80.32">1-7</text>
<text class="b" text-anchor="end" transform="translate(1674.51 4074.11) rotate(-45) scale(1 1.04)" font-size="80.32">3-7</text>
<text class="b" text-anchor="end" transform="translate(1854.91 4074.11) rotate(-45) scale(1 1.04)" font-size="80.32">4-7</text>
<text class="b" text-anchor="end" transform="translate(2035.31 4074.11) rotate(-45) scale(1 1.04)" font-size="80.32">5-7</text>
<text class="b" transform="translate(1003 4292.2)" font-size="87.05">Congenic line</text>
<text class="b" transform="translate(15.6 3044.5) scale(0.94 1.01)" font-size="123.6">C</text>
<text class="b" transform="translate(874.5 3791.3)" font-size="104.92">Females + Males</text>
<text transform="translate(288.5 3131.5) scale(1 1.03)" font-size="91.36">Sum:</text>
<text transform="translate(531 3131.5) scale(1 1.03)" font-size="91.36">0,</text>
<text transform="translate(688.5 3131.5) scale(1 1.03)" font-size="91.36">-1,</text>
<text transform="translate(902 3131.5) scale(1 1.03)" font-size="91.36">0,</text>
<text transform="translate(1057 3131.5) scale(1 1.03)" font-size="91.36">0,</text>
<text transform="translate(1265.5 3131.5) scale(1 1.03)" font-size="91.36">0,</text>
<text transform="translate(1395.5 3131.5) scale(1 1.03)" font-size="91.36">-1,</text>
<text transform="translate(1583.5 3131.5) scale(1 1.03)" font-size="91.36">-1,</text>
<text transform="translate(1795 3131.5) scale(1 1.03)" font-size="91.36">0,</text>
<text transform="translate(1952 3131.5) scale(1 1.03)" font-size="91.36">-1</text>
<text stroke="#000" stroke-width="2.2" stroke-linejoin="round" transform="translate(690.5 3271.4) scale(1 0.95)" font-size="94.38">***</text>
<text stroke="#000" stroke-width="2.2" stroke-linejoin="round" transform="translate(1403 3271.4) scale(1 0.95)" font-size="94.38">***</text>
<text stroke="#000" stroke-width="2.2" stroke-linejoin="round" transform="translate(1588 3271.4) scale(1 0.95)" font-size="94.38">***</text>
<text stroke="#000" stroke-width="2.2" stroke-linejoin="round" transform="translate(1950 3271.4) scale(1 0.95)" font-size="94.38">***</text>
</g>
</svg>
</body>
</html>
